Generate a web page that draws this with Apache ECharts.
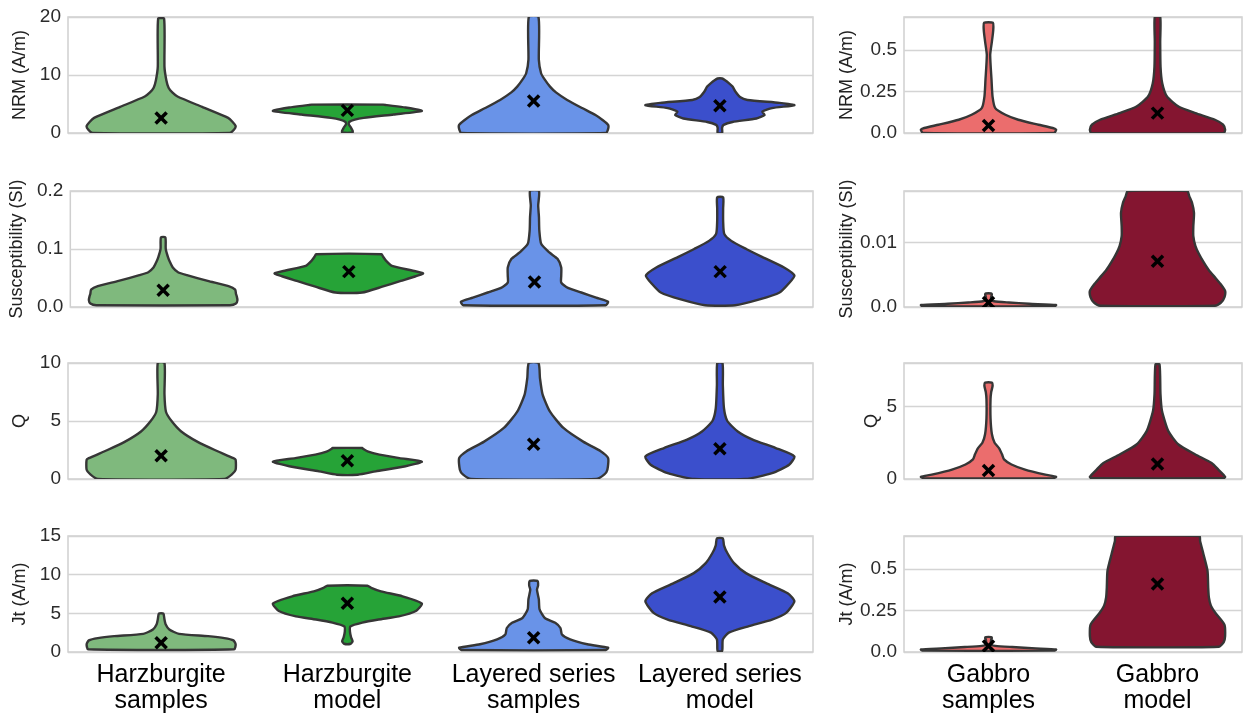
<!DOCTYPE html>
<html>
<head>
<meta charset="utf-8">
<script src="https://cdn.jsdelivr.net/npm/echarts@6/dist/echarts.min.js"></script>
<style>
  html, body { margin: 0; padding: 0; background: #fff; }
  #chart { width: 1243px; height: 716px; }
</style>
</head>
<body>
<div id="chart"></div>
<script>
// Categories on the two x axes
const rockCategories = ['Harzburgite\nsamples', 'Harzburgite\nmodel', 'Layered series\nsamples', 'Layered series\nmodel'];
const gabbroCategories = ['Gabbro\nsamples', 'Gabbro\nmodel'];

// Violin outlines: [value, relative half-width (1 = widest)], bottom to top
// NRM (A/m)
const nrmHarzSamples = [[0,0.92],[0.6,0.98],[1.2,1.0],[1.9,0.96],[2.6,0.9],[4.5,0.55],[6.3,0.22],[7.0,0.15],[7.8,0.1],[9.1,0.07],[11.4,0.045],[19.7,0.04]];
const nrmHarzModel = [[0.1,0.07],[0.4,0.07],[0.9,0.05],[1.5,0.02],[1.9,0.025],[2.3,0.1],[2.6,0.22],[3.2,0.62],[3.8,1.0],[4.4,0.78],[4.8,0.53],[4.9,0.48]];
const nrmLayeredSamples = [[0,0.97],[0.7,1.0],[1.4,1.0],[2.2,0.93],[3.1,0.83],[4.3,0.65],[5.7,0.45],[7.0,0.3],[8.0,0.22],[9.2,0.15],[10.3,0.1],[12.6,0.07],[20,0.065]];
const nrmLayeredModel = [[0,0.03],[0.9,0.03],[1.4,0.05],[1.9,0.17],[2.5,0.49],[3.1,0.6],[3.7,0.57],[4.3,0.7],[4.8,1.0],[5.2,0.8],[5.7,0.37],[6.2,0.27],[7.1,0.21],[8.0,0.17],[8.6,0.12],[9.1,0.07],[9.4,0.03]];
const nrmGabbroSamples = [[0,0.97],[0.02,1.0],[0.03,0.95],[0.05,0.74],[0.08,0.44],[0.11,0.25],[0.15,0.1],[0.22,0.06],[0.32,0.045],[0.47,0.025],[0.55,0.05],[0.62,0.07],[0.665,0.065]];
const nrmGabbroModel = [[0,0.98],[0.02,1.0],[0.05,0.97],[0.08,0.85],[0.12,0.56],[0.16,0.31],[0.22,0.14],[0.30,0.07],[0.4,0.045],[0.55,0.04],[0.7,0.04]];

// Susceptibility (SI)
const susHarzSamples = [[0.003,0.9],[0.006,0.98],[0.012,1.0],[0.019,0.99],[0.023,0.98],[0.03,0.97],[0.036,0.88],[0.045,0.6],[0.055,0.32],[0.06,0.2],[0.068,0.13],[0.078,0.09],[0.086,0.065],[0.1,0.035],[0.12,0.03]];
const susHarzModel = [[0.025,0.18],[0.035,0.45],[0.045,0.7],[0.053,0.9],[0.058,1.0],[0.063,0.85],[0.071,0.58],[0.08,0.5],[0.087,0.46],[0.091,0.44]];
const susLayeredSamples = [[0.003,0.96],[0.009,0.99],[0.016,0.83],[0.025,0.63],[0.033,0.45],[0.042,0.36],[0.054,0.36],[0.068,0.36],[0.083,0.31],[0.094,0.2],[0.109,0.09],[0.132,0.065],[0.155,0.06],[0.175,0.05],[0.2,0.06]];
const susLayeredModel = [[0.003,0.2],[0.013,0.53],[0.025,0.8],[0.04,0.92],[0.054,1.0],[0.068,0.86],[0.086,0.57],[0.1,0.35],[0.114,0.15],[0.126,0.055],[0.149,0.04],[0.17,0.04],[0.189,0.04]];
const susGabbroSamples = [[0.0001,0.97],[0.0003,1.0],[0.0005,0.6],[0.0007,0.3],[0.0009,0.08],[0.0012,0.04],[0.0016,0.04],[0.0019,0.05],[0.0021,0.04]];
const susGabbroModel = [[0.0002,0.85],[0.0007,0.94],[0.0015,0.99],[0.0025,1.0],[0.0036,0.93],[0.0046,0.85],[0.0057,0.76],[0.0070,0.68],[0.0083,0.61],[0.0095,0.56],[0.011,0.53],[0.0125,0.53],[0.0146,0.54],[0.0162,0.51],[0.0172,0.47],[0.018,0.44]];

// Q
const qHarzSamples = [[0,0.85],[0.4,0.95],[0.8,1.0],[1.66,1.0],[1.8,0.97],[2.5,0.72],[3.2,0.49],[4.1,0.27],[5.0,0.14],[5.8,0.065],[7.3,0.045],[10,0.045]];
const qHarzModel = [[0.37,0.14],[0.66,0.38],[1.1,0.78],[1.5,1.0],[1.8,0.7],[2.1,0.43],[2.35,0.28],[2.6,0.21],[2.67,0.2]];
const qLayeredSamples = [[0,0.84],[0.4,0.95],[0.8,0.99],[1.8,1.0],[2.4,0.9],[3.2,0.67],[4.4,0.4],[5.8,0.22],[7.3,0.12],[8.7,0.085],[10,0.065]];
const qLayeredModel = [[0,0.34],[0.5,0.7],[1.23,0.93],[1.95,1.0],[2.67,0.75],[3.4,0.44],[4.1,0.24],[5.0,0.1],[6.1,0.055],[8.1,0.04],[10,0.035]];
const qGabbroSamples = [[0.05,0.95],[0.15,1.0],[0.3,0.84],[0.65,0.54],[1.0,0.34],[1.35,0.23],[1.7,0.2],[2.1,0.16],[2.5,0.09],[3.1,0.05],[4.2,0.03],[5.5,0.03],[6.0,0.04],[6.4,0.06],[6.65,0.05]];
const qGabbroModel = [[0.05,0.97],[0.15,1.0],[0.65,0.9],[1.11,0.8],[1.69,0.56],[2.38,0.31],[3.3,0.16],[4.7,0.066],[5.85,0.044],[7.9,0.03]];

// Jt (A/m)
const jtHarzSamples = [[0.35,0.98],[1.0,1.0],[1.5,0.97],[1.8,0.85],[2.05,0.63],[2.35,0.24],[2.9,0.11],[3.6,0.06],[4.2,0.045],[4.97,0.03]];
const jtHarzModel = [[1.07,0.045],[1.4,0.07],[1.9,0.05],[2.6,0.035],[3.3,0.04],[3.8,0.2],[4.2,0.42],[4.6,0.69],[5.3,0.92],[6.26,1.0],[7.2,0.74],[7.84,0.45],[8.3,0.32],[8.57,0.27]];
const jtLayeredSamples = [[0.26,0.97],[0.56,1.0],[1.0,0.72],[1.63,0.49],[2.27,0.38],[3.1,0.36],[3.78,0.29],[4.4,0.15],[5.5,0.08],[6.8,0.07],[8.06,0.045],[8.6,0.06],[9.2,0.05]];
const jtLayeredModel = [[0.13,0.03],[1.63,0.04],[2.5,0.12],[3.34,0.39],[4.2,0.7],[5.06,0.89],[6.56,1.0],[7.6,0.91],[8.9,0.62],[10.2,0.35],[11.5,0.19],[12.8,0.1],[13.8,0.055],[14.7,0.04]];
const jtGabbroSamples = [[0.008,0.97],[0.015,1.0],[0.022,0.7],[0.03,0.35],[0.037,0.1],[0.045,0.04],[0.06,0.035],[0.075,0.04],[0.085,0.05],[0.09,0.04]];
const jtGabbroModel = [[0.032,0.91],[0.06,0.98],[0.095,1.0],[0.165,0.99],[0.234,0.86],[0.28,0.79],[0.33,0.76],[0.39,0.75],[0.49,0.74],[0.59,0.68],[0.67,0.63],[0.7,0.62]];

// Means (drawn as x markers)
const nrmMeans = [2.6, 3.9, 5.5, 4.7];
const nrmGabbroMeans = [0.045, 0.12];
const susMeans = [0.029, 0.061, 0.043, 0.061];
const susGabbroMeans = [0.0007, 0.0071];
const qMeans = [2.0, 1.58, 3.0, 2.6];
const qGabbroMeans = [0.58, 1.04];
const jtMeans = [1.2, 6.3, 1.85, 7.1];
const jtGabbroMeans = [0.036, 0.41];

const rockColors = ['#7fb97d', '#26a337', '#6993e8', '#3b4fcc'];
const gabbroColors = ['#eb6d6d', '#841530'];

const FONT = '"Liberation Sans", Arial, sans-serif';
const rowTops = [17, 191, 363, 536];
const rowH = 116;

const panels = [
  { name: 'NRM (A/m)', profiles: [nrmHarzSamples, nrmHarzModel, nrmLayeredSamples, nrmLayeredModel], means: nrmMeans,
    gProfiles: [nrmGabbroSamples, nrmGabbroModel], gMeans: nrmGabbroMeans,
    y: { max: 20, interval: 10, fmt: v => String(v) }, gy: { max: 0.7, interval: 0.25, last: 0.5, fmt: v => v === 0 ? '0.0' : String(v) },
    gap: 32, ggap: 47 },
  { name: 'Susceptibility (SI)', profiles: [susHarzSamples, susHarzModel, susLayeredSamples, susLayeredModel], means: susMeans,
    gProfiles: [susGabbroSamples, susGabbroModel], gMeans: susGabbroMeans,
    y: { max: 0.2, interval: 0.1, fmt: v => v.toFixed(1) }, gy: { max: 0.018, interval: 0.01, last: 0.01, fmt: v => v === 0 ? '0.0' : String(v) },
    gap: 37, ggap: 47 },
  { name: 'Q', profiles: [qHarzSamples, qHarzModel, qLayeredSamples, qLayeredModel], means: qMeans,
    gProfiles: [qGabbroSamples, qGabbroModel], gMeans: qGabbroMeans,
    y: { max: 10, interval: 5, fmt: v => String(v) }, gy: { max: 8, interval: 5, last: 5, fmt: v => String(v) },
    gap: 32, ggap: 23 },
  { name: 'Jt (A/m)', profiles: [jtHarzSamples, jtHarzModel, jtLayeredSamples, jtLayeredModel], means: jtMeans,
    gProfiles: [jtGabbroSamples, jtGabbroModel], gMeans: jtGabbroMeans,
    y: { max: 15, interval: 5, fmt: v => String(v) }, gy: { max: 0.7, interval: 0.25, last: 0.5, fmt: v => v === 0 ? '0.0' : String(v) },
    gap: 32, ggap: 47 }
];

const grids = [], xAxes = [], yAxes = [], series = [];

function addPanel(idx, left, width, top, cats, profiles, means, colors, yCfg, name, gap, showX) {
  grids.push({ left, top, width, height: rowH, show: true, borderColor: '#cfcfcf', borderWidth: 1.5, backgroundColor: '#fff' });
  xAxes.push({
    type: 'category', gridIndex: idx, data: cats, boundaryGap: true,
    axisLine: { show: false }, axisTick: { show: false }, splitLine: { show: false },
    axisLabel: { show: showX, color: '#000', fontFamily: FONT, fontSize: 25, lineHeight: 26, margin: 10, interval: 0 }
  });
  const last = yCfg.last !== undefined ? yCfg.last : yCfg.max;
  yAxes.push({
    type: 'value', gridIndex: idx, min: 0, max: yCfg.max, interval: yCfg.interval,
    name, nameLocation: 'middle', nameGap: gap, nameRotate: 90,
    nameTextStyle: { color: '#222', fontFamily: FONT, fontSize: 18 },
    axisLine: { show: false }, axisTick: { show: false },
    axisLabel: { color: '#2b2b2b', fontFamily: FONT, fontSize: 19, margin: 7,
      formatter: v => (v <= last + 1e-12 ? yCfg.fmt(v) : '') },
    splitLine: { lineStyle: { color: '#d4d4d4', width: 1.3 } }
  });
  series.push({
    type: 'custom', xAxisIndex: idx, yAxisIndex: idx, clip: true,
    data: means.map((m, i) => [i, m]),
    renderItem(params, api) {
      const i = api.value(0);
      const prof = profiles[i];
      const half = api.size([1, 0])[0] * 0.8 / 2;
      const pts = [];
      for (let k = 0; k < prof.length; k++) {
        const c = api.coord([i, prof[k][0]]);
        pts.push([c[0] - prof[k][1] * half, c[1]]);
      }
      for (let k = prof.length - 1; k >= 0; k--) {
        const c = api.coord([i, prof[k][0]]);
        pts.push([c[0] + prof[k][1] * half, c[1]]);
      }
      const m = api.coord([i, api.value(1)]);
      const s = 5.5;
      const xs = { stroke: '#000', lineWidth: 3.5, lineCap: 'butt' };
      return {
        type: 'group',
        children: [
          { type: 'polygon', shape: { points: pts, smooth: 0.2 }, style: { fill: colors[i], stroke: '#363636', lineWidth: 2.4, lineJoin: 'round' } },
          { type: 'line', shape: { x1: m[0] - s, y1: m[1] - s, x2: m[0] + s, y2: m[1] + s }, style: xs },
          { type: 'line', shape: { x1: m[0] - s, y1: m[1] + s, x2: m[0] + s, y2: m[1] - s }, style: xs }
        ]
      };
    }
  });
}

panels.forEach((p, r) => {
  const showX = r === panels.length - 1;
  addPanel(r * 2, 68, 745, rowTops[r], rockCategories, p.profiles, p.means, rockColors, p.y, p.name, p.gap, showX);
  addPanel(r * 2 + 1, 904, 338, rowTops[r], gabbroCategories, p.gProfiles, p.gMeans, gabbroColors, p.gy, p.name, p.ggap, showX);
});

const chart = echarts.init(document.getElementById('chart'), null, { renderer: 'canvas' });
chart.setOption({
  animation: false,
  backgroundColor: '#fff',
  grid: grids, xAxis: xAxes, yAxis: yAxes, series
});
</script>
</body>
</html>
